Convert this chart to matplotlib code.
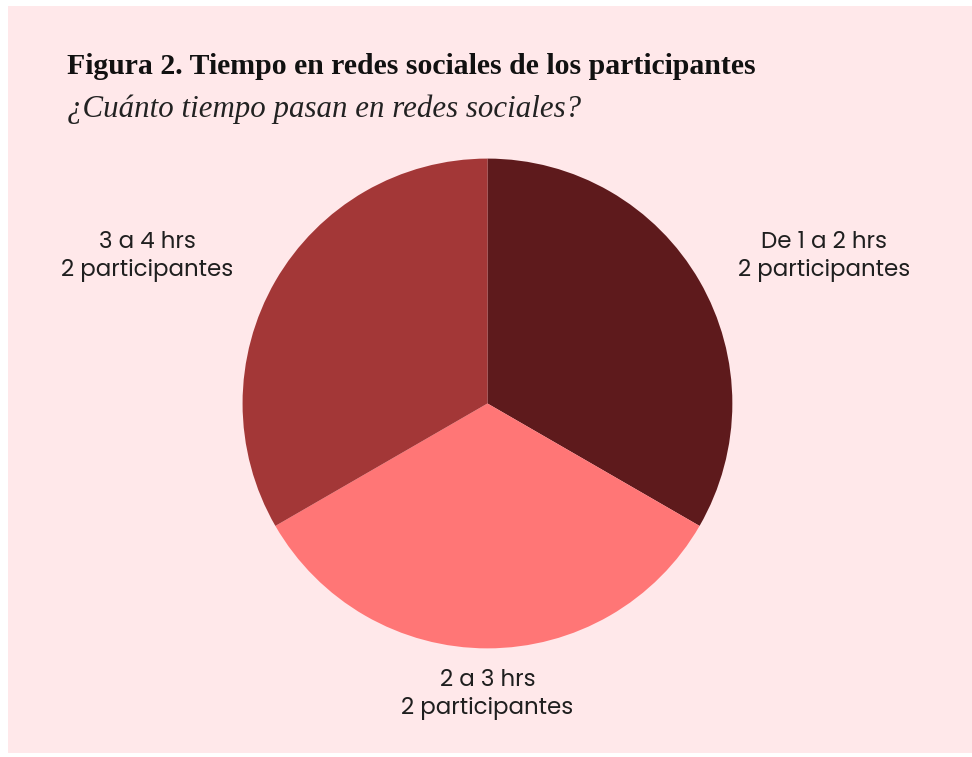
import matplotlib
matplotlib.use("Agg")
import matplotlib.pyplot as plt
from matplotlib.patches import Rectangle

categorias = ["De 1 a 2 hrs", "2 a 3 hrs", "3 a 4 hrs"]
participantes = [2, 2, 2]
colores = ["#5E1A1C", "#FF7676", "#A33737"]
# donde va cada etiqueta (unidades del radio)
pos_etiquetas = [(1.375, 0.60), (0.0, -1.19), (-1.39, 0.60)]

titulo = "Figura 2. Tiempo en redes sociales de los participantes"
subtitulo = "¿Cuánto tiempo pasan en redes sociales?"

fondo = "#FFE8EA"

fig = plt.figure(figsize=(9.72, 7.57), dpi=100)
fig.patch.set_facecolor("white")
fig.patches.append(Rectangle((8 / 972, 4 / 757), 1, 1 - 10 / 757, transform=fig.transFigure,
                             facecolor=fondo, edgecolor="none", zorder=-10))

ax = fig.add_axes([0.2495, 0.1435, 0.504, 0.647])
ax.set_facecolor("none")
wedges, texts = ax.pie(participantes, colors=colores, startangle=90, counterclock=False,
                       radius=1, labels=categorias, wedgeprops=dict(linewidth=0))
for t, cat, n, (x, y) in zip(texts, categorias, participantes, pos_etiquetas):
    t.set_text(f"{cat}\n{n} participantes")
    t.set_position((x, y))
    t.set_ha("center")
    t.set_va("center")
    t.set_fontfamily("Poppins")
    t.set_fontsize(16.5)
    t.set_color("#1f1f1f")
    t.set_linespacing(1.3)
ax.set_xlim(-1, 1)
ax.set_ylim(-1, 1)
ax.set_aspect("equal")

t1 = fig.text(0.069, 0.902, titulo, family="Liberation Serif", fontweight="bold",
              fontsize=24, color="#111111", va="baseline")
t2 = fig.text(0.069, 0.845, subtitulo, family="Liberation Serif", style="italic",
              fontsize=24, color="#222222", va="baseline")

# ajustar el tamaño para que ocupen el mismo ancho que el original
fig.canvas.draw()
for t, ancho in [(t1, 690), (t2, 515)]:
    w = t.get_window_extent().width
    t.set_fontsize(t.get_fontsize() * ancho / w)

fig.savefig("out.png", dpi=100, facecolor=fig.get_facecolor())
